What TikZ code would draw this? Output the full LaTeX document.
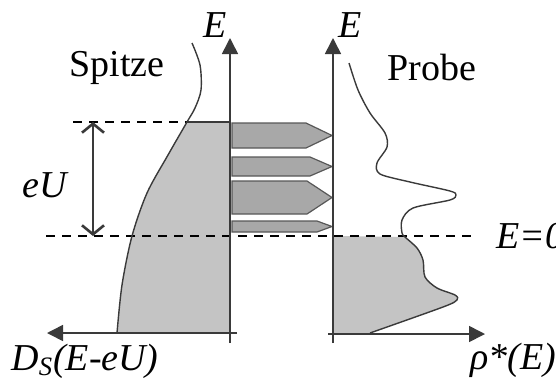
\documentclass[tikz,border=0pt]{standalone}
\usepackage{fontspec}
\setmainfont{Liberation Serif}
\usetikzlibrary{arrows.meta}
\definecolor{ink}{HTML}{3A3A3A}
\definecolor{dosfill}{HTML}{C4C4C4}
\definecolor{levelfill}{HTML}{A8A8A8}
\tikzset{
  axis/.style={draw=ink,line width=0.8pt,-{Triangle[length=8pt,width=8pt]}},
  fermi/.style={black,line width=1.2pt,dash pattern=on 4.5pt off 3.5pt},
  dos/.style={ink,line width=0.7pt},
  level/.style={fill=levelfill,draw=ink!85,line width=0.6pt},
  lbl/.style={font=\fontsize{19}{21}\selectfont,inner sep=0pt},
  ilbl/.style={font=\fontsize{19}{21}\selectfont\itshape,inner sep=0pt},
}
\begin{document}
\begin{tikzpicture}[x=0.5pt,y=-0.5pt]
  \useasboundingbox (0,0) rectangle (556,381);
  % axes end points
  \coordinate (sO) at (230,333);
  \coordinate (sBot) at (230,343);
  \coordinate (sTop) at (230,38);
  \coordinate (sRight) at (237,333);
  \coordinate (sLeft) at (47,333);
  \coordinate (pBot) at (333,343);
  \coordinate (pTop) at (333,38);
  \coordinate (pLeft) at (328,334);
  \coordinate (pRight) at (485,334);
  % Fermi levels
  \coordinate (fTipL) at (73,122);
  \coordinate (fTipC) at (187,122);
  \coordinate (fTipA) at (230,122);
  \coordinate (fProbeL) at (46,236);
  \coordinate (fProbeR) at (478,236);
  \coordinate (eUtop) at (93,122);
  \coordinate (eUbot) at (93,236);

  % filled states
  \fill[dosfill] (fTipA) -- (fTipC) -- plot[smooth] coordinates
    {(187,122) (168,155) (147,193) (132,236) (122,285) (117,333)} -- (sO) -- cycle;
  \fill[dosfill] (333,236) -- plot[smooth] coordinates
    {(405,237) (417,248) (423,260) (425,277) (437,288) (455,295) (457,300) (443,307) (370,333)}
    -- (333,333) -- cycle;

  % tunnel current
  \foreach \t/\b/\s in {123/148/306,157/176/310,181/214/307,221/232/317}{
    \draw[level] (232,\t) -- (\s,\t) -- (332,{(\t+\b)/2}) -- (\s,\b) -- (232,\b) -- cycle;}

  \draw[fermi] (fTipL) -- (fTipC);
  \draw[ink,line width=0.8pt] (fTipC) -- (fTipA);
  \draw[fermi] (fProbeL) -- (fProbeR);

  % axes
  \draw[axis] (sBot) -- (sTop);
  \draw[axis] (sRight) -- (sLeft);
  \draw[axis] (pBot) -- (pTop);
  \draw[axis] (pLeft) -- (pRight);

  % densities of states
  \draw[dos] plot[smooth] coordinates {(192,43) (200,65) (201,90) (195,108) (187,122)
    (168,155) (147,193) (132,236) (122,285) (117,333)};
  \draw[dos] plot[smooth] coordinates {(349,63) (358,90) (370,113) (385,133) (387,147)
    (377,163) (380,174) (410,182) (450,191) (456,195) (450,200) (413,208) (402,220)
    (402,233) (405,237) (417,248) (423,260) (425,277) (437,288) (455,295) (457,300)
    (443,307) (370,333)};

  \draw[ink,line width=0.8pt,{Straight Barb[length=4.5pt,width=11pt,line width=1.3pt]}-{Straight Barb[length=4.5pt,width=11pt,line width=1.3pt]}]
    (eUtop) -- (eUbot);

  % labels
  \node[lbl] (spitze) at (117,68) {Spitze};
  \node[lbl] (probe) at (432,67) {Probe};
  \node[ilbl] (eTip) at (215,25) {E};
  \node[ilbl] (eProbe) at (350,25) {E};
  \node[ilbl] (eU) at (45,185) {eU};
  \node[ilbl,anchor=west] (ezero) at (496,236) {E=0};
  \node[ilbl] (dTip) at (85,361) {D\textsubscript{S}(E-eU)};
  \node[ilbl] (rho) at (513,360) {ρ*(E)};
\end{tikzpicture}
\end{document}
